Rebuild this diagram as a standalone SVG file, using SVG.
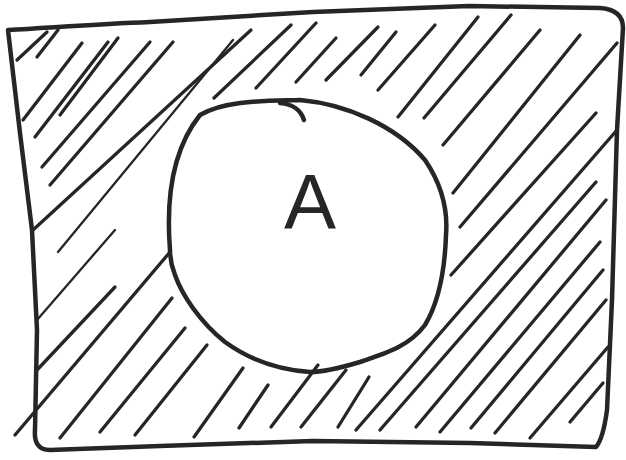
<svg xmlns="http://www.w3.org/2000/svg" width="626" height="460" viewBox="0 0 626 460">
<style>
.outline{fill:none;stroke:#262626;stroke-width:4.5;stroke-linecap:round;stroke-linejoin:round}
.hatch line{stroke:#262626;stroke-width:3.3;stroke-linecap:round}
.hatch line.thin{stroke-width:2.3}
.label{font-family:"Liberation Sans","DejaVu Sans",sans-serif;font-size:78px;fill:#262626}
</style>
<rect width="626" height="460" fill="#ffffff"/>
<g id="hatching" class="hatch">
<line x1="17" y1="60" x2="47" y2="32"/>
<line x1="37" y1="57" x2="58" y2="30"/>
<line x1="23" y1="120" x2="82" y2="43"/>
<line x1="35" y1="137" x2="108" y2="42"/>
<line x1="60" y1="115" x2="118" y2="38"/>
<line x1="42" y1="167" x2="150" y2="42"/>
<line x1="50" y1="185" x2="173" y2="42"/>
<line x1="33" y1="230" x2="251" y2="30"/>
<line x1="58" y1="252" x2="233" y2="40" class="thin"/>
<line x1="214" y1="98" x2="291" y2="25"/>
<line x1="256" y1="88" x2="316" y2="23"/>
<line x1="296" y1="82" x2="336" y2="38"/>
<line x1="326" y1="80" x2="378" y2="27"/>
<line x1="361" y1="75" x2="396" y2="32"/>
<line x1="378" y1="90" x2="435" y2="25"/>
<line x1="398" y1="117" x2="478" y2="17"/>
<line x1="424" y1="118" x2="511" y2="15"/>
<line x1="443" y1="145" x2="540" y2="30"/>
<line x1="453" y1="193" x2="580" y2="35"/>
<line x1="460" y1="227" x2="617" y2="43"/>
<line x1="451" y1="275" x2="596" y2="113"/>
<line x1="356" y1="430" x2="617" y2="130"/>
<line x1="380" y1="430" x2="596" y2="182"/>
<line x1="416" y1="427" x2="606" y2="200"/>
<line x1="440" y1="432" x2="600" y2="242"/>
<line x1="471" y1="428" x2="603" y2="270"/>
<line x1="495" y1="433" x2="606" y2="300"/>
<line x1="530" y1="438" x2="608" y2="347"/>
<line x1="570" y1="422" x2="603" y2="383"/>
<line x1="338" y1="427" x2="369" y2="377"/>
<line x1="301" y1="427" x2="346" y2="370"/>
<line x1="271" y1="427" x2="318" y2="365"/>
<line x1="239" y1="428" x2="268" y2="385"/>
<line x1="194" y1="437" x2="243" y2="368"/>
<line x1="135" y1="435" x2="207" y2="345"/>
<line x1="100" y1="432" x2="185" y2="328"/>
<line x1="60" y1="438" x2="172" y2="298"/>
<line x1="15" y1="435" x2="170" y2="252"/>
<line x1="37" y1="320" x2="115" y2="230" class="thin"/>
<line x1="37" y1="370" x2="115" y2="287"/>
</g>
<g id="universe">
<path class="outline" d="M 8 30 C 60 27 100 24 150 22 L 313 12 L 469 6 L 600 8 C 615 9 623 15 623 28 L 617 130 L 612 300 L 607 410 C 605 425 602 440 596 447 L 470 443 L 313 441 L 160 446 L 50 450 C 38 450 34 442 35 430 L 37 330 L 32 230 L 20 133 Z"/>
</g>
<g id="set-A">
<path class="outline" d="M 170 250 C 166 200 172 150 200 115 C 225 100 265 101 300 100 C 345 104 395 125 425 160 C 442 185 448 210 446 235 C 445 265 440 300 425 325 C 410 345 390 352 360 362 C 340 368 325 372 310 372 C 280 370 250 360 225 342 C 200 322 182 295 175 275 C 171 265 170 258 170 250 Z"/>
<path class="outline" d="M 280 103 C 292 104 301 110 304 120"/>
<text class="label" x="310" y="229" text-anchor="middle">A</text>
</g>
</svg>
